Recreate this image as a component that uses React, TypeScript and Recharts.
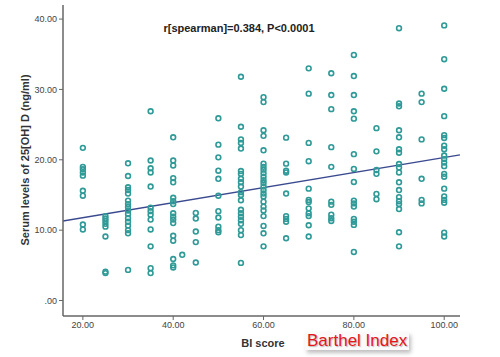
import { ScatterChart, Scatter, XAxis, YAxis, ReferenceLine } from 'recharts';

// BI score groups and the serum 25[OH]D values read for each one
const biScores = [20, 25, 30, 35, 40, 42, 45, 50, 55, 60, 65, 70, 75, 80, 85, 90, 95, 100];
const vitaminD = [
  [21.7, 19.0, 18.65, 18.2, 17.75, 15.6, 14.9, 10.8, 10.1],
  [12.0, 11.65, 11.3, 10.9, 10.5, 9.1, 4.1, 3.9],
  [19.5, 17.7, 16.1, 15.7, 15.2, 14.2, 13.7, 13.3, 12.8, 12.3, 11.7, 11.2, 10.65, 10.0, 9.55, 4.35],
  [26.9, 19.9, 18.8, 18.2, 16.2, 13.2, 12.7, 12.2, 11.5, 10.1, 7.7, 4.6, 3.9],
  [23.2, 19.9, 19.2, 17.4, 16.8, 14.6, 14.1, 13.7, 12.4, 11.9, 11.5, 11.0, 9.2, 8.5, 5.9, 5.0, 4.7],
  [6.5],
  [12.45, 11.65, 9.8, 8.3, 5.4],
  [25.9, 22.15, 20.35, 18.45, 17.3, 14.9, 12.7, 11.8, 10.5, 10.0, 9.7],
  [31.8, 24.7, 22.9, 22.4, 21.6, 18.4, 18.0, 17.3, 16.8, 16.2, 15.4, 15.0, 14.25, 12.9, 12.4, 11.9, 11.4, 10.9, 10.0, 9.3, 5.35],
  [28.9, 28.2, 24.2, 23.4, 21.35, 19.45, 19.0, 18.6, 18.1, 17.6, 17.1, 16.7, 16.2, 15.7, 15.2, 14.8, 14.05, 13.35, 12.8, 12.0, 10.6, 9.55, 7.7],
  [23.15, 19.45, 18.45, 18.2, 15.2, 12.0, 11.6, 11.2, 8.85],
  [33.0, 29.4, 22.4, 19.8, 15.9, 14.3, 14.0, 13.1, 12.4, 12.0, 10.7, 9.1],
  [32.3, 29.2, 27.2, 21.8, 19.0, 14.05, 13.6, 12.2, 11.7, 11.3],
  [34.9, 31.9, 29.2, 26.9, 25.85, 20.8, 18.7, 16.85, 14.2, 13.8, 13.35, 11.6, 11.2, 10.75, 6.9],
  [24.5, 21.2, 18.55, 18.0, 15.15, 14.4],
  [38.7, 28.0, 27.6, 24.2, 23.2, 21.5, 21.0, 19.4, 18.9, 18.2, 16.8, 15.7, 14.7, 14.1, 13.7, 13.0, 9.7, 7.7],
  [29.4, 28.2, 22.9, 17.3, 14.3, 13.8],
  [39.1, 34.3, 30.1, 26.2, 23.5, 23.1, 22.0, 21.5, 20.6, 20.1, 19.6, 19.1, 18.0, 17.6, 15.9, 14.8, 14.3, 13.9, 9.65, 9.1],
];

const xTicks = [20, 40, 60, 80, 100];
const yTicks = [0, 10, 20, 30, 40];
// fitted line end points (BI score, ng/ml)
const fitX = [15.6, 103.5];
const fitY = [11.3, 20.7];

const points = biScores.flatMap((bi, i) => vitaminD[i].map((v) => ({ bi, v })));

const fmt = (v: number) => (v === 0 ? '.00' : v.toFixed(2));
const font = '"Liberation Sans", Arial, sans-serif';
const teal = '#2f9a97';

const Ring = (props: any) => {
  const { cx, cy } = props;
  if (cx == null || cy == null) return null;
  return <circle cx={cx} cy={cy} r={2.4} fill="none" stroke={teal} strokeWidth={1.6} />;
};

export default function App() {
  return (
    <div style={{ position: 'relative', width: 500, height: 357, background: '#fff', fontFamily: font }}>
      <style>{`body{margin:0}`}</style>
      <ScatterChart width={500} height={357} margin={{ top: 5, right: 40, bottom: 0, left: 0 }}>
        <XAxis
          type="number"
          dataKey="bi"
          domain={[15.6, 103.5]}
          allowDataOverflow
          ticks={xTicks}
          tickFormatter={fmt}
          height={41}
          tickSize={4}
          tickMargin={2}
          axisLine={{ stroke: '#666', strokeWidth: 1.5 }}
          tickLine={{ stroke: '#666', strokeWidth: 1 }}
          tick={{ fontSize: 9, fill: '#444', fontFamily: font }}
        />
        <YAxis
          type="number"
          dataKey="v"
          domain={[-2.2, 42]}
          allowDataOverflow
          ticks={yTicks}
          tickFormatter={fmt}
          width={63}
          tickSize={4}
          tickMargin={2}
          axisLine={{ stroke: '#666', strokeWidth: 1.5 }}
          tickLine={{ stroke: '#666', strokeWidth: 1 }}
          tick={{ fontSize: 9, fill: '#444', fontFamily: font }}
        />
        <Scatter data={points} shape={<Ring />} isAnimationActive={false} />
        <ReferenceLine
          segment={[
            { x: fitX[0], y: fitY[0] },
            { x: fitX[1], y: fitY[1] },
          ]}
          stroke="#3b4a8f"
          strokeWidth={1.3}
          ifOverflow="visible"
        />
        <text x={239} y={32} textAnchor="middle" fontSize={11} fontWeight="bold" fill="#222" fontFamily={font}>
          r[spearman]=0.384, P&lt;0.0001
        </text>
        <text x={263} y={347} textAnchor="middle" fontSize={11} fontWeight="bold" fill="#333" fontFamily={font}>
          BI score
        </text>
        <text
          x={25}
          y={160}
          transform="rotate(-90 25 160)"
          textAnchor="middle"
          dominantBaseline="central"
          fontSize={11}
          fontWeight="bold"
          fill="#333"
          fontFamily={font}
        >
          Serum levels of 25[OH] D (ng/ml)
        </text>
      </ScatterChart>
      <div
        style={{
          position: 'absolute',
          left: 305,
          top: 332,
          padding: '0 2px',
          fontSize: 17,
          lineHeight: '18px',
          color: '#e8141c',
          background: '#fafafa',
          boxShadow: '2px 3px 4px rgba(0,0,0,0.25)',
          textShadow: '1px 1px 1px rgba(0,0,0,0.25)',
        }}
      >
        Barthel Index
      </div>
    </div>
  );
}
